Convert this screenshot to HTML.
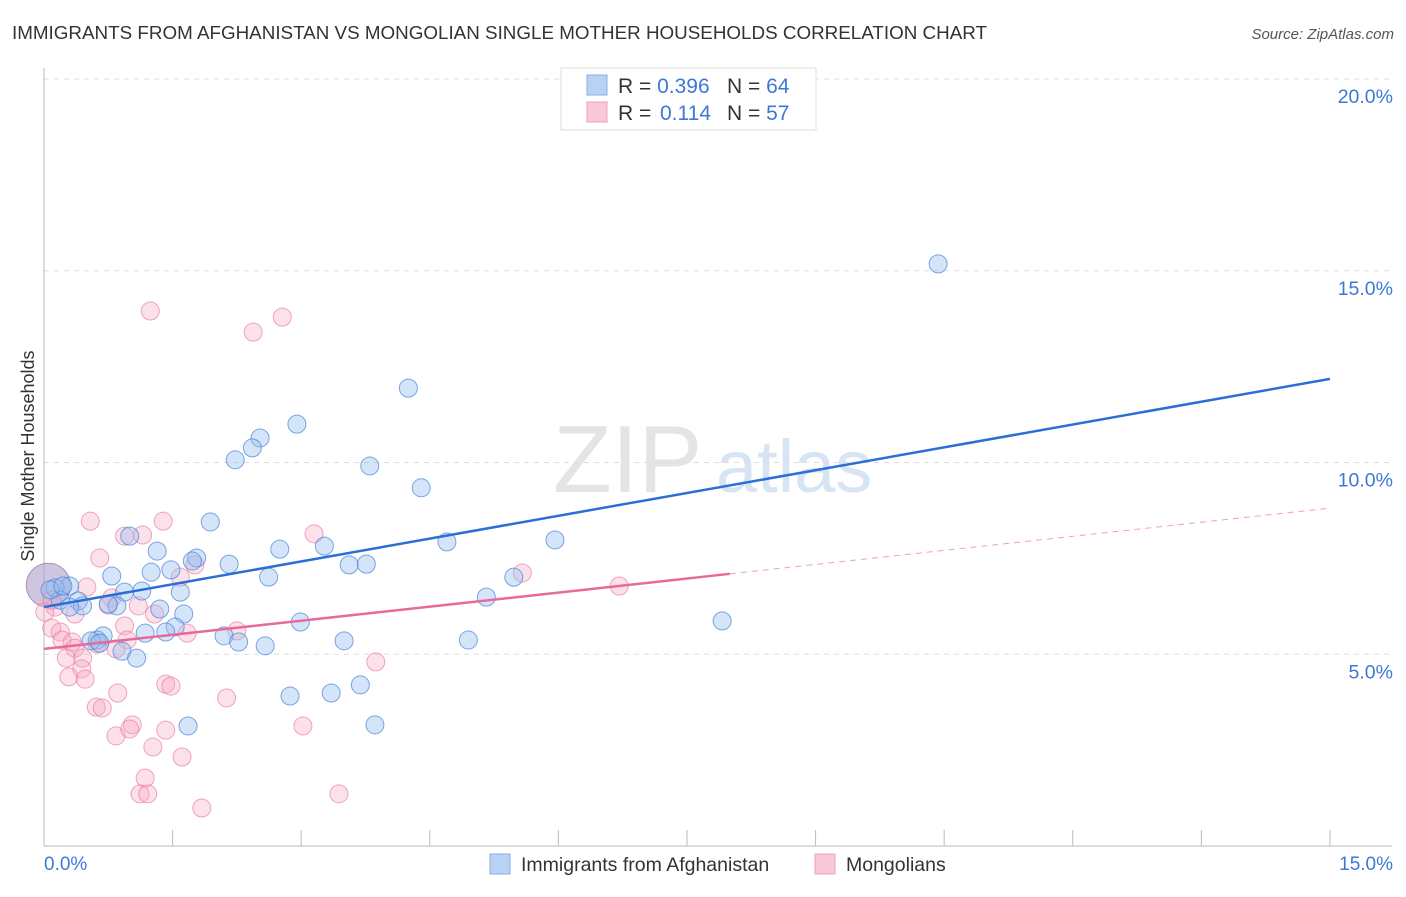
<!DOCTYPE html>
<html><head><meta charset="utf-8"><style>
body{margin:0;background:#fff;font-family:"Liberation Sans",sans-serif}
svg text{font-family:"Liberation Sans",sans-serif}
</style></head><body>
<svg id="chart" width="1406" height="892">
<text x="12" y="39" font-size="18.5" fill="#333" textLength="975" lengthAdjust="spacingAndGlyphs">IMMIGRANTS FROM AFGHANISTAN VS MONGOLIAN SINGLE MOTHER HOUSEHOLDS CORRELATION CHART</text>
<text x="1394" y="39" font-size="15" fill="#555" font-style="italic" text-anchor="end">Source: ZipAtlas.com</text>
<g>
<text x="553" y="492" font-size="96" fill="#e4e4e4" font-family="Liberation Serif">ZIP</text>
<text x="716" y="492" font-size="74" fill="#d6e4f4">atlas</text>
</g>
<g id="grid"></g>
<g id="axes"></g>
<g id="pts"></g>
<g id="trend"></g>
<text transform="translate(34,456) rotate(-90)" font-size="18" fill="#333" text-anchor="middle">Single Mother Households</text>
<text x="44" y="870" font-size="19" fill="#3d78d8">0.0%</text>
<text x="1393" y="870" font-size="19" fill="#3d78d8" text-anchor="end">15.0%</text>
<g>
<rect x="561" y="68" width="255" height="62" fill="#fff" stroke="#ddd"/>
<rect x="587" y="75" width="20" height="20" fill="#b8d2f4" stroke="#88aee4"/>
<rect x="587" y="102" width="20" height="20" fill="#fac8d8" stroke="#eea0b8"/>
<text x="618" y="93" font-size="21" fill="#333">R = <tspan fill="#3d78d8">0.396</tspan><tspan x="727">N = </tspan><tspan fill="#3d78d8">64</tspan></text>
<text x="618" y="120" font-size="21" fill="#333">R = <tspan x="660" fill="#3d78d8">0.114</tspan><tspan x="727">N = </tspan><tspan fill="#3d78d8">57</tspan></text>
</g>
<g>
<rect x="490" y="854" width="20" height="20" fill="#b8d2f4" stroke="#88aee4"/>
<text x="521" y="871" font-size="19.5" fill="#333">Immigrants from Afghanistan</text>
<rect x="815" y="854" width="20" height="20" fill="#fac8d8" stroke="#eea0b8"/>
<text x="846" y="871" font-size="19.5" fill="#333">Mongolians</text>
</g>
</svg>
<script>
const yTicks=[5,10,15,20];
const xTicks=[0,1.5,3,4.5,6,7.5,9,10.5,12,13.5,15];
const blueX=[10.43,4.25,2.95,2.52,2.43,2.23,3.80,4.40,1.94,4.70,5.96,1.00,1.32,3.27,2.75,1.78,1.73,2.16,3.56,3.76,1.48,1.25,2.62,0.79,5.48,0.30,0.13,1.14,0.94,1.59,0.19,0.40,0.45,0.85,0.30,1.35,1.63,2.99,7.91,1.53,1.18,0.69,2.10,1.42,0.62,0.55,2.27,3.50,4.95,2.58,0.91,1.08,5.16,3.69,3.35,2.87,1.68,3.86,0.07,0.22,0.65,0.75];
const blueY=[15.18,11.94,11.00,10.64,10.38,10.07,9.91,9.34,8.45,7.93,7.98,8.08,7.69,7.82,7.74,7.51,7.43,7.35,7.33,7.35,7.20,7.14,7.01,7.04,7.01,6.78,6.73,6.65,6.62,6.62,6.41,6.39,6.26,6.26,6.23,6.18,6.05,5.84,5.87,5.71,5.55,5.48,5.48,5.58,5.37,5.35,5.32,5.35,5.37,5.22,5.08,4.90,6.49,4.20,3.99,3.91,3.13,3.16,6.68,6.78,5.29,6.31];
const pinkX=[1.24,2.44,2.78,0.54,1.39,3.15,0.94,1.15,0.65,1.76,1.59,5.58,6.71,0.50,0.79,1.10,0.13,0.75,0.36,1.29,0.09,0.94,0.19,2.25,0.33,1.67,0.97,0.21,0.62,0.36,0.26,0.84,0.45,3.87,0.44,0.29,0.48,1.42,1.48,0.86,2.13,0.61,0.68,1.03,3.02,0.84,1.00,1.42,1.27,1.61,1.18,1.12,1.21,3.44,1.84,0.01,0.09];
const pinkY=[13.95,13.40,13.79,8.47,8.47,8.14,8.08,8.11,7.51,7.33,7.01,7.12,6.78,6.75,6.47,6.26,6.23,6.28,6.05,6.05,5.68,5.74,5.58,5.61,5.32,5.55,5.37,5.37,5.27,5.16,4.90,5.14,4.90,4.80,4.62,4.41,4.35,4.22,4.17,3.99,3.86,3.62,3.60,3.16,3.13,2.87,3.05,3.02,2.58,2.32,1.77,1.36,1.36,1.36,0.99,6.10,6.41];
const blueTrend=[6.23,12.18];
const pinkTrend=[5.14,8.81];
const pinkSolidEnd=8.0;
const NS="http://www.w3.org/2000/svg";
const sx=v=>44+v*85.73, sy=v=>846-v*38.35;
function mk(p,t,a){const e=document.createElementNS(NS,t);for(const k in a)e.setAttribute(k,a[k]);document.getElementById(p).appendChild(e);return e;}
yTicks.forEach(t=>{
 const l=mk('grid','line',{x1:44,x2:1392,y1:sy(t),y2:sy(t),stroke:'#ddd','stroke-dasharray':'5,5'});
 
 
 const tx=mk('grid','text',{x:1393,y:sy(t)+24,'font-size':19.5,fill:'#3d78d8','text-anchor':'end'});
 tx.textContent=t.toFixed(1)+'%';
 
 
});
let ax=mk('axes','line',{x1:44,x2:44,y1:68,y2:846,stroke:'#bbb'});


ax=mk('axes','line',{x1:44,x2:1392,y1:846,y2:846,stroke:'#bbb'});


xTicks.forEach(t=>{
 const l=mk('axes','line',{x1:sx(t),x2:sx(t),y1:830,y2:846,stroke:'#bbb'});
 
 
});
let big=mk('pts','circle',{cx:sx(0.05),cy:sy(6.8),r:22,fill:'rgba(168,150,200,0.55)',stroke:'#b090c0'});


pinkX.forEach((x,i)=>{
 const c=mk('pts','circle',{cx:sx(x),cy:sy(pinkY[i]),r:9,fill:'rgba(245,170,195,0.35)',stroke:'rgba(230,120,160,0.65)','stroke-width':1});
 
 
});
blueX.forEach((x,i)=>{
 const c=mk('pts','circle',{cx:sx(x),cy:sy(blueY[i]),r:9,fill:'rgba(150,190,240,0.4)',stroke:'rgba(70,130,215,0.7)','stroke-width':1});
 
 
});
let tl=mk('trend','line',{x1:sx(0),y1:sy(blueTrend[0]),x2:sx(15),y2:sy(blueTrend[1]),stroke:'#2a6fd6','stroke-width':2.5});


const pAt=x=>pinkTrend[0]+(pinkTrend[1]-pinkTrend[0])*x/15;
tl=mk('trend','line',{x1:sx(0),y1:sy(pAt(0)),x2:sx(pinkSolidEnd),y2:sy(pAt(pinkSolidEnd)),stroke:'#e8699a','stroke-width':2.5});


tl=mk('trend','line',{x1:sx(pinkSolidEnd),y1:sy(pAt(pinkSolidEnd)),x2:sx(15),y2:sy(pAt(15)),stroke:'#eea0bc','stroke-width':1,'stroke-dasharray':'6,5'});


</script>
</body></html>
